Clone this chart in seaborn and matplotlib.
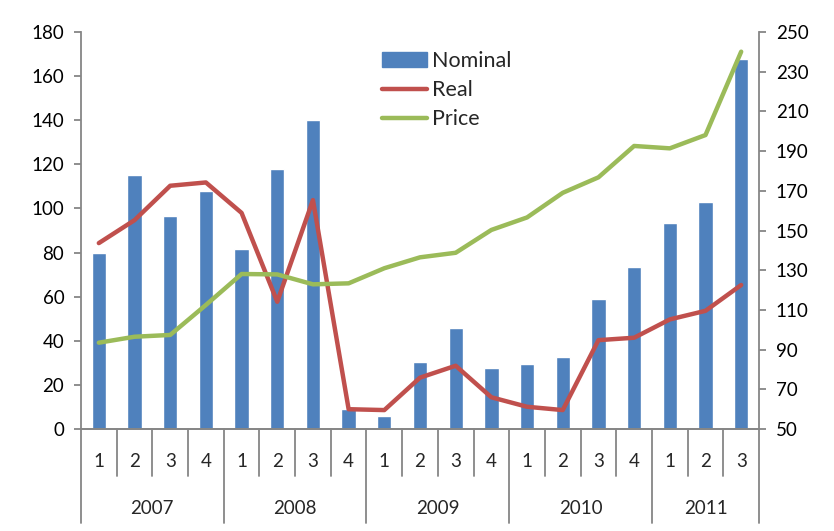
import pandas as pd
import seaborn as sns
import matplotlib.pyplot as plt
from matplotlib.lines import Line2D
from matplotlib.patches import Patch

quarters = ['1', '2', '3', '4', '1', '2', '3', '4', '1', '2', '3', '4',
            '1', '2', '3', '4', '1', '2', '3']
years = ['2007', '2008', '2009', '2010', '2011']
year_counts = [4, 4, 4, 4, 3]
nominal = [80, 115, 96.5, 108, 81.5, 118, 140, 9, 5.7, 30.2, 45.9, 27.6,
           29.5, 32.8, 59.1, 73.4, 93.2, 103, 167.7]
real = [84.3, 94.7, 110.3, 111.8, 98, 57.7, 103.8, 9, 8.6, 23.3, 28.7, 14.4,
        10.1, 8.6, 40.3, 41.4, 49.7, 53.6, 65.3]
price = [93.5, 96.5, 97.4, 112.5, 128.1, 127.9, 122.9, 123.4, 131, 136.5, 138.8, 150.3,
         156.6, 169, 176.8, 192.6, 191.4, 198.1, 240.1]

df = pd.DataFrame({'idx': range(len(nominal)), 'Nominal': nominal,
                   'Real': real, 'Price': price})

sns.set_style('white')
plt.rcParams['font.family'] = ['Lato', 'DejaVu Sans']

blue, red, green = '#4F81BD', '#C0504D', '#9BBB59'
gray = '#868686'
fs = 13.5

fig = plt.figure(figsize=(8.34, 5.31), dpi=100)
ax = fig.add_axes([0.0971, 0.192, 0.813, 0.7477])

sns.barplot(x='idx', y='Nominal', data=df, color=blue, width=0.4,
            saturation=1, ax=ax)
sns.lineplot(x='idx', y='Real', data=df, color=red, linewidth=3.2, ax=ax)

ax2 = ax.twinx()
sns.lineplot(x='idx', y='Price', data=df, color=green, linewidth=3.2, ax=ax2)

n = len(nominal)
ax.set_xlim(-0.5, n - 0.5)
ax.set_ylim(0, 180)
ax.set_yticks(range(0, 181, 20))
ax2.set_ylim(50, 250)
ax2.set_yticks(range(50, 251, 20))

for a in (ax, ax2):
    a.set_xlabel('')
    a.set_ylabel('')
    a.set_xticks([])
    a.spines['top'].set_visible(False)
    for s in a.spines.values():
        s.set_color(gray)
        s.set_linewidth(1.3)
    a.tick_params(axis='y', colors=gray, labelcolor='black', length=5,
                  width=1.3, labelsize=fs)
ax.spines['right'].set_visible(False)
ax2.spines['left'].set_visible(False)
ax.tick_params(axis='y', left=True, pad=7)
ax2.tick_params(axis='y', right=True, pad=7)

# two-level category axis
trans = ax.get_xaxis_transform()
for i, q in enumerate(quarters):
    ax.text(i, -0.081, q, transform=trans, ha='center', va='center', fontsize=fs)
year_edges = [-0.5]
for c in year_counts:
    year_edges.append(year_edges[-1] + c)
for i in range(n + 1):
    x = i - 0.5
    bottom = -0.237 if x in year_edges else -0.118
    ax.add_line(Line2D([x, x], [0, bottom], transform=trans, color=gray,
                       linewidth=1.3, clip_on=False))
for y, a, b in zip(years, year_edges[:-1], year_edges[1:]):
    ax.text((a + b) / 2, -0.2, y, transform=trans, ha='center', va='center',
            fontsize=fs)

handles = [Patch(color=blue), Line2D([], [], color=red, linewidth=3.2),
           Line2D([], [], color=green, linewidth=3.2)]
ax2.legend(handles, ['Nominal', 'Real', 'Price'], loc='upper left',
           bbox_to_anchor=(0.415, 1.0), frameon=False, fontsize=15.5,
           handlelength=2.1, handletextpad=0.25, labelspacing=0.42)

fig.savefig('out.png', dpi=100)
